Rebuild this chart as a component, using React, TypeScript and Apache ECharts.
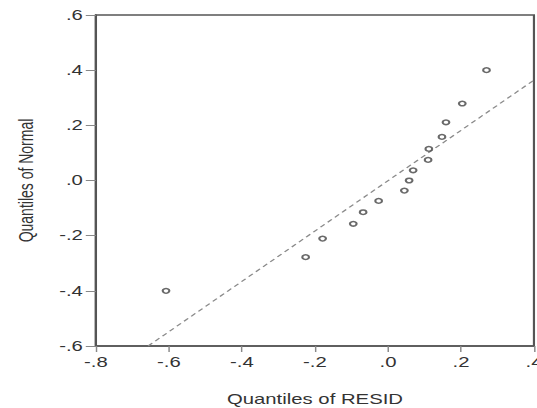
import React, { useEffect, useRef } from "react";
import * as echarts from "echarts";

// Quantiles of RESID (x) and Quantiles of Normal (y)
const residQuantiles = [-0.608, -0.2255, -0.179, -0.095, -0.068, -0.0255, 0.045, 0.058, 0.069, 0.110, 0.112, 0.148, 0.159, 0.2036, 0.270];
const normalQuantiles = [-0.4, -0.278, -0.2105, -0.157, -0.115, -0.074, -0.0366, 0.0, 0.037, 0.0746, 0.1145, 0.158, 0.211, 0.279, 0.4];

// reference (theoretical) line endpoints
const fitLineX = [-0.657, 0.4];
const fitLineY = [-0.6, 0.364];

const xAxisName = "Quantiles of RESID";
const yAxisName = "Quantiles of Normal";

const INNER_W = 370;
const OUTER_W = 537;
const H = 408;

const fmt = (v: number) => v.toFixed(1).replace(/^(-?)0/, "$1");

export default function App() {
  const ref = useRef<HTMLDivElement>(null);
  useEffect(() => {
    document.body.style.margin = "0";
    if (!ref.current) return;
    const chart = echarts.init(ref.current, null, { renderer: "svg" });
    const font = "'Liberation Sans', Arial, sans-serif";
    chart.setOption({
      animation: false,
      backgroundColor: "#ffffff",
      grid: {
        left: 66.1,
        right: 2.1,
        top: 15,
        bottom: 62,
        containLabel: false,
        outerBoundsMode: "none",
        show: true,
        borderColor: "#555",
        borderWidth: 1.5,
        backgroundColor: "transparent",
      },
      xAxis: {
        type: "value",
        min: -0.8,
        max: 0.4,
        interval: 0.2,
        splitLine: { show: false },
        axisLine: { show: true, onZero: false, lineStyle: { color: "#555", width: 1.5 } },
        axisTick: { show: true, inside: false, length: 6, lineStyle: { color: "#888", width: 1 } },
        axisLabel: {
          formatter: fmt,
          color: "#333",
          fontFamily: font,
          fontSize: 14,
          margin: 9,
          showMaxLabel: true,
          showMinLabel: true,
        },
        name: xAxisName,
        nameLocation: "middle",
        nameGap: 46,
        nameTextStyle: { color: "#333", fontFamily: font, fontSize: 14 },
      },
      yAxis: {
        type: "value",
        min: -0.6,
        max: 0.6,
        interval: 0.2,
        splitLine: { show: false },
        axisLine: { show: true, onZero: false, lineStyle: { color: "#555", width: 1.5 } },
        axisTick: { show: true, inside: false, length: 7, lineStyle: { color: "#888", width: 1 } },
        axisLabel: {
          formatter: fmt,
          color: "#333",
          fontFamily: font,
          fontSize: 14,
          margin: 9,
          showMaxLabel: true,
          showMinLabel: true,
        },
        name: yAxisName,
        nameLocation: "middle",
        nameGap: 41,
        nameRotate: 90,
        nameTextStyle: { color: "#333", fontFamily: font, fontSize: 14 },
      },
      series: [
        {
          type: "line",
          data: fitLineX.map((x, i) => [x, fitLineY[i]]),
          showSymbol: false,
          symbol: "none",
          lineStyle: { color: "#8a8a8a", width: 1.1, type: [4, 3] },
          silent: true,
          z: 1,
        },
        {
          type: "scatter",
          data: residQuantiles.map((x, i) => [x, normalQuantiles[i]]),
          symbol: "circle",
          symbolSize: 4.6,
          itemStyle: { color: "#ffffff", borderColor: "#444", borderWidth: 1.5 },
          z: 2,
        },
      ],
    });
    return () => chart.dispose();
  }, []);
  return (
    <div style={{ width: OUTER_W, height: H, overflow: "hidden", position: "relative" }}>
      <div
        ref={ref}
        style={{
          width: INNER_W,
          height: H,
          transform: `scaleX(${OUTER_W / INNER_W})`,
          transformOrigin: "0 0",
        }}
      />
    </div>
  );
}
